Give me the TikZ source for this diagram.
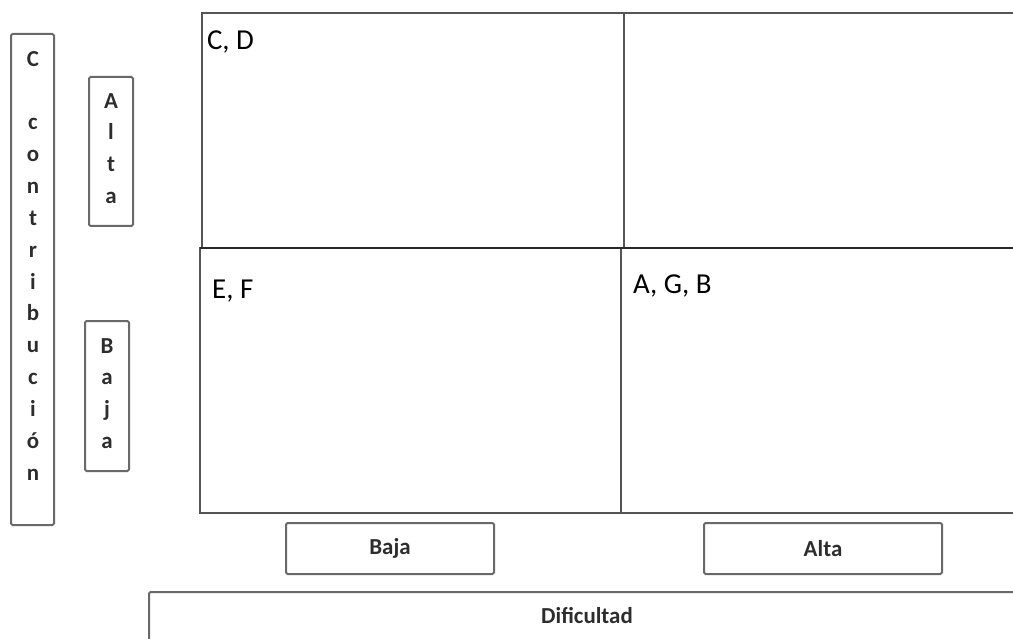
\documentclass[tikz,border=0pt]{standalone}
\usepackage{fontspec}
\setmainfont{Carlito}
\definecolor{boxgray}{RGB}{105,105,105}
\definecolor{cellgray}{RGB}{85,85,85}
\definecolor{midline}{RGB}{40,40,40}
\definecolor{txtgray}{RGB}{45,45,45}
\begin{document}
\begin{tikzpicture}[x=1bp,y=-1bp,
  box/.style={draw=boxgray, line width=2bp, rounded corners=1.5bp},
  cell/.style={draw=cellgray, line width=2bp},
  lbl/.style={font=\bfseries\fontsize{23}{32}\selectfont, text=txtgray, inner sep=0, align=center},
  quad/.style={font=\fontsize{29}{32}\selectfont, inner sep=0, anchor=base west},
  hbox/.style={box, inner sep=0, font=\bfseries\fontsize{23}{26}\selectfont, text=txtgray}]
\useasboundingbox (0,0) rectangle (1013,639);
% quadrants
\draw[cell] (202,13) rectangle (624,248);
\draw[cell] (624,13) -- (1030,13);
\draw[cell] (200,248) rectangle (621,513);
\draw[cell] (621,513) -- (1030,513);
\draw[line width=2.5bp, draw=midline] (200,248) -- (1030,248);
% quadrant labels
\node[quad] (cd) at (207,50) {C, D};
\node[quad] (ef) at (212,299) {E, F};
\node[quad] (agb) at (633,294) {A, G, B};
% vertical axis boxes
\draw[box] (11,34) rectangle (54,525);
\node[lbl, anchor=north] (contrib) at (33,51) {C\\[31.5bp]c\\o\\n\\t\\r\\i\\b\\u\\c\\i\\ó\\n};
\draw[box] (89,77) rectangle (133,226);
\node[lbl, anchor=north] (altaV) at (111,93) {A\\l\\t\\a};
\draw[box] (85,321) rectangle (129,471);
\node[lbl, anchor=north] (bajaV) at (107,338) {B\\a\\j\\a};
% horizontal axis boxes
\node[hbox, minimum width=208bp, minimum height=51bp] (bajaH) at (390,548.5) {Baja};
\node[hbox, minimum width=238bp, minimum height=51bp] (altaH) at (823,548.5) {Alta};
\draw[box] (149,592) rectangle (1030,660);
\node[font=\bfseries\fontsize{23}{26}\selectfont, text=txtgray, inner sep=0] (dif) at (587,616) {Dificultad};
\end{tikzpicture}
\end{document}
